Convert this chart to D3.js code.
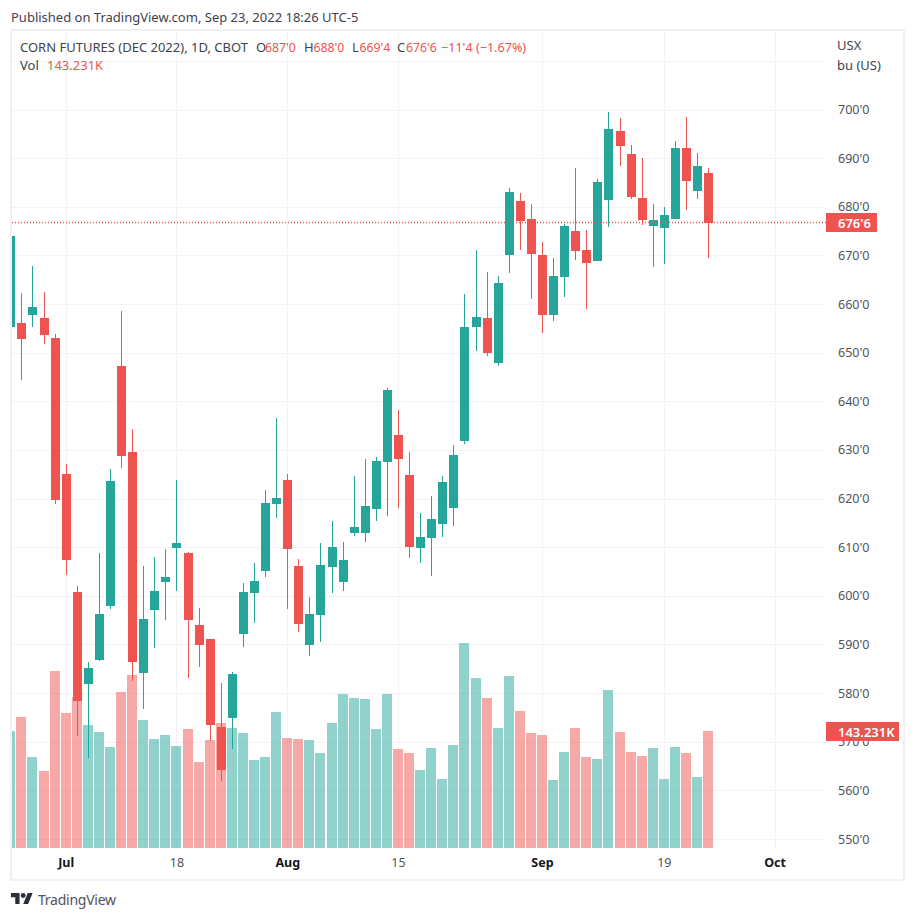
<!DOCTYPE html>
<html>
<head>
<meta charset="utf-8">
<title>Corn futures</title>
<script src="https://cdn.jsdelivr.net/npm/d3@7"></script>
<style>
  html, body { margin: 0; padding: 0; background: #fff; }
  svg { display: block; }
</style>
</head>
<body>
<svg id="chart" width="915" height="919"></svg>
<script>
// one value per trading day, starting Jun 24 2022
const open = [655.3,656.1,657.7,657.2,653.0,625.0,600.8,581.9,586.8,597.9,647.3,629.6,584.1,597.1,602.8,609.8,
  608.8,594.0,591.1,573.0,574.8,592.2,600.6,605.1,618.9,623.8,606.1,589.9,596.1,605.9,602.8,612.9,612.9,617.9,627.5,
  633.1,624.8,609.8,611.9,614.8,618.1,631.8,655.3,657.2,647.9,670.1,681.2,677.5,670.1,657.7,665.6,675.1,671.1,668.8,
  681.4,695.6,690.9,681.8,676.1,675.6,677.5,692.1,683.2,687.0];
const high = [674.0,662.3,667.8,662.5,653.8,627.1,602.0,586.4,608.8,626.1,658.6,634.3,606.1,608.0,609.6,623.8,
  609.0,597.5,591.1,582.1,584.3,602.6,606.7,621.8,636.6,625.0,607.6,599.8,610.9,615.4,611.1,624.6,628.1,628.5,642.7,
  638.2,629.6,617.0,620.5,624.6,631.0,662.1,671.1,666.6,665.8,683.9,682.8,680.6,672.8,669.5,676.5,688.0,675.3,685.7,
  699.5,698.3,692.7,690.0,680.6,680.0,693.5,698.5,691.1,688.0];
const low = [655.3,644.4,655.3,651.8,618.9,604.3,571.2,566.7,586.6,597.3,626.3,582.5,576.7,589.3,595.0,601.0,
  583.1,585.4,570.2,561.9,568.5,589.5,594.4,603.9,616.0,597.3,592.6,587.6,590.5,600.6,601.0,612.3,611.1,615.4,616.4,
  618.1,607.8,606.7,604.1,612.1,614.4,631.2,650.4,649.3,647.3,666.4,671.1,661.0,654.0,656.5,661.4,669.1,659.0,668.8,
  675.8,688.4,681.6,676.3,667.6,668.2,677.5,679.3,681.6,669.5];
const close = [674.0,652.8,659.4,653.7,619.7,607.4,578.4,585.2,596.3,623.6,628.7,586.4,595.2,601.0,603.9,610.9,
  595.0,589.9,573.4,564.2,583.9,600.8,603.0,619.1,620.1,609.6,594.2,596.3,606.3,610.0,607.4,614.1,618.5,627.7,642.3,
  628.1,610.0,612.1,615.8,623.4,629.0,655.3,657.3,650.0,664.3,683.0,677.1,670.3,657.7,665.8,676.1,670.9,668.4,685.1,
  696.0,692.5,682.0,677.3,677.3,678.3,692.1,685.3,688.4,676.75];
const volume = [143.2,160.4,111.4,94.3,216.7,165.3,184.9,150.6,142.0,123.6,191.0,211.8,156.7,133.4,138.3,124.9,
  145.7,105.3,132.2,153.0,146.9,140.8,107.7,111.4,166.5,134.7,133.4,132.2,116.3,153.0,188.5,183.6,182.4,145.7,188.5,
  121.2,116.3,95.5,122.4,84.5,126.1,251.0,208.1,183.6,146.9,210.6,167.7,140.8,138.3,83.2,117.5,146.9,111.4,109.0,
  193.4,142.0,117.5,112.6,122.4,84.5,123.6,116.3,86.9,143.231];

const priceTicks = [550,560,570,580,590,600,610,620,630,640,650,660,670,680,690,700];
const gridOnlyPrice = 710;
const timeTickBars = [5,15,25,35,48,59,69];
const timeTickLabels = ["Jul","18","Aug","15","Sep","19","Oct"];
const monthLabels = ["Jul","Aug","Sep","Oct"];
const lastClose = 676.75;

const up = "#26a69a", down = "#ef5350";
const textGrey = "#50535e", textDark = "#131722", gridColor = "#f3f3f6";
const font = "'Noto Sans', sans-serif";

const plot = {left: 12, right: 826, top: 31, bottom: 848};

const svg = d3.select("#chart");

const x = d3.scaleLinear().domain([0, 63]).range([10.3, 708.15]);
const y = d3.scaleLinear().domain([550, 700]).range([839, 109.5]);
const yVol = d3.scaleLinear().domain([0, 143.231]).range([plot.bottom, 731]);
const px = i => Math.round(x(i));
const isUp = i => close[i] >= open[i];

svg.append("clipPath").attr("id", "plotclip")
  .append("rect")
  .attr("x", plot.left).attr("y", plot.top)
  .attr("width", plot.right - plot.left)
  .attr("height", plot.bottom - plot.top);

// grid
const grid = svg.append("g").attr("clip-path", "url(#plotclip)");
grid.selectAll("line.h")
  .data(priceTicks.concat(gridOnlyPrice))
  .enter().append("line")
  .attr("x1", plot.left).attr("x2", plot.right)
  .attr("y1", d => Math.round(y(d)) + 0.5).attr("y2", d => Math.round(y(d)) + 0.5)
  .attr("stroke", gridColor);
grid.selectAll("line.v")
  .data(timeTickBars)
  .enter().append("line")
  .attr("x1", d => px(d) + 0.5).attr("x2", d => px(d) + 0.5)
  .attr("y1", plot.top).attr("y2", plot.bottom)
  .attr("stroke", gridColor);

const marks = svg.append("g").attr("clip-path", "url(#plotclip)");

// volume bars sit under the candles
marks.append("g").selectAll("rect")
  .data(volume)
  .enter().append("rect")
  .attr("x", (d, i) => px(i) - 5)
  .attr("width", 10)
  .attr("y", d => Math.round(yVol(d)))
  .attr("height", d => plot.bottom - Math.round(yVol(d)))
  .attr("fill", (d, i) => isUp(i) ? up : down)
  .attr("opacity", 0.5);

// wicks
marks.append("g").selectAll("rect")
  .data(high)
  .enter().append("rect")
  .attr("x", (d, i) => px(i))
  .attr("width", 1)
  .attr("y", d => Math.round(y(d)))
  .attr("height", (d, i) => Math.round(y(low[i])) - Math.round(y(d)))
  .attr("fill", (d, i) => isUp(i) ? up : down);

// bodies
marks.append("g").selectAll("rect")
  .data(open)
  .enter().append("rect")
  .attr("x", (d, i) => px(i) - 4)
  .attr("width", 9)
  .attr("y", (d, i) => Math.round(y(Math.max(d, close[i]))))
  .attr("height", (d, i) => Math.max(1, Math.round(y(Math.min(d, close[i]))) - Math.round(y(Math.max(d, close[i])))))
  .attr("fill", (d, i) => isUp(i) ? up : down);

// last price line
svg.append("line")
  .attr("x1", plot.left).attr("x2", plot.right)
  .attr("y1", Math.floor(y(lastClose)) + 0.5).attr("y2", Math.floor(y(lastClose)) + 0.5)
  .attr("stroke", down)
  .attr("stroke-width", 1.3)
  .attr("stroke-dasharray", "1,2");

// price axis
const priceAxis = svg.append("g")
  .attr("transform", "translate(" + plot.right + ",0)")
  .call(d3.axisRight(y).tickValues(priceTicks).tickSize(0).tickPadding(12).tickFormat(d => d + "'0"));
priceAxis.select(".domain").remove();
priceAxis.selectAll("text")
  .attr("font-family", font).attr("font-size", 12.5).attr("fill", textGrey);

// time axis
const timeAxis = svg.append("g")
  .attr("transform", "translate(0," + plot.bottom + ")")
  .call(d3.axisBottom(x).tickValues(timeTickBars).tickSize(0).tickPadding(10)
    .tickFormat((d, i) => timeTickLabels[i]));
timeAxis.select(".domain").remove();
timeAxis.selectAll("text")
  .attr("font-family", font).attr("font-size", 12.5)
  .attr("font-weight", (d, i) => monthLabels.includes(timeTickLabels[i]) ? 700 : 400)
  .attr("fill", (d, i) => monthLabels.includes(timeTickLabels[i]) ? textDark : textGrey);

// last value tags on the price axis
svg.append("rect").attr("x", plot.right).attr("y", 213).attr("width", 51).attr("height", 19).attr("fill", down);
svg.append("text").attr("x", 838).attr("y", 227.5).text("676'6")
  .attr("font-family", font).attr("font-size", 13).attr("font-weight", 600).attr("fill", "#fff");
svg.append("rect").attr("x", plot.right).attr("y", 722).attr("width", 73).attr("height", 19).attr("fill", down);
svg.append("text").attr("x", 838).attr("y", 736.5).text("143.231K")
  .attr("font-family", font).attr("font-size", 13).attr("font-weight", 600).attr("fill", "#fff");

// frame
svg.append("rect")
  .attr("x", 11).attr("y", 30).attr("width", 893).attr("height", 850)
  .attr("fill", "none").attr("stroke", "#f0f0f5").attr("stroke-width", 2);

// header, legend
const label = (str, lx, ly, color, size) => svg.append("text")
  .attr("x", lx).attr("y", ly).text(str)
  .attr("font-family", font).attr("font-size", size || 13).attr("fill", color);

label("Published on TradingView.com, Sep 23, 2022 18:26 UTC-5", 11, 22, "#3f424d");
label("CORN FUTURES (DEC 2022), 1D, CBOT", 20, 52, "#3f424d");
label("O", 256, 52, "#3f424d");
label("687'0", 265, 52, down, 12.3);
label("H", 304, 52, "#3f424d");
label("688'0", 313.5, 52, down, 12.3);
label("L", 352, 52, "#3f424d");
label("669'4", 359.5, 52, down, 12.3);
label("C", 397, 52, "#3f424d");
label("676'6", 406, 52, down, 12.3);
label("\u221211'4 (\u22121.67%)", 441, 52, down, 12.6);
label("Vol", 20, 70, "#3f424d");
label("143.231K", 47, 70, down);
label("USX", 837, 50, "#3f424d");
label("bu (US)", 837, 70, "#3f424d");

// logo + wordmark
const logo = svg.append("g").attr("transform", "translate(11,890.6) scale(0.61)").attr("fill", "#2a2e39");
logo.append("path").attr("d", "M14 22H7V11H0V4h14v18zM28 22h-8l7.5-18h8L28 22z");
logo.append("circle").attr("cx", 20).attr("cy", 8).attr("r", 4);
label("TradingView", 38, 905, "#50535e", 14).attr("letter-spacing", -0.25);
</script>
</body>
</html>
